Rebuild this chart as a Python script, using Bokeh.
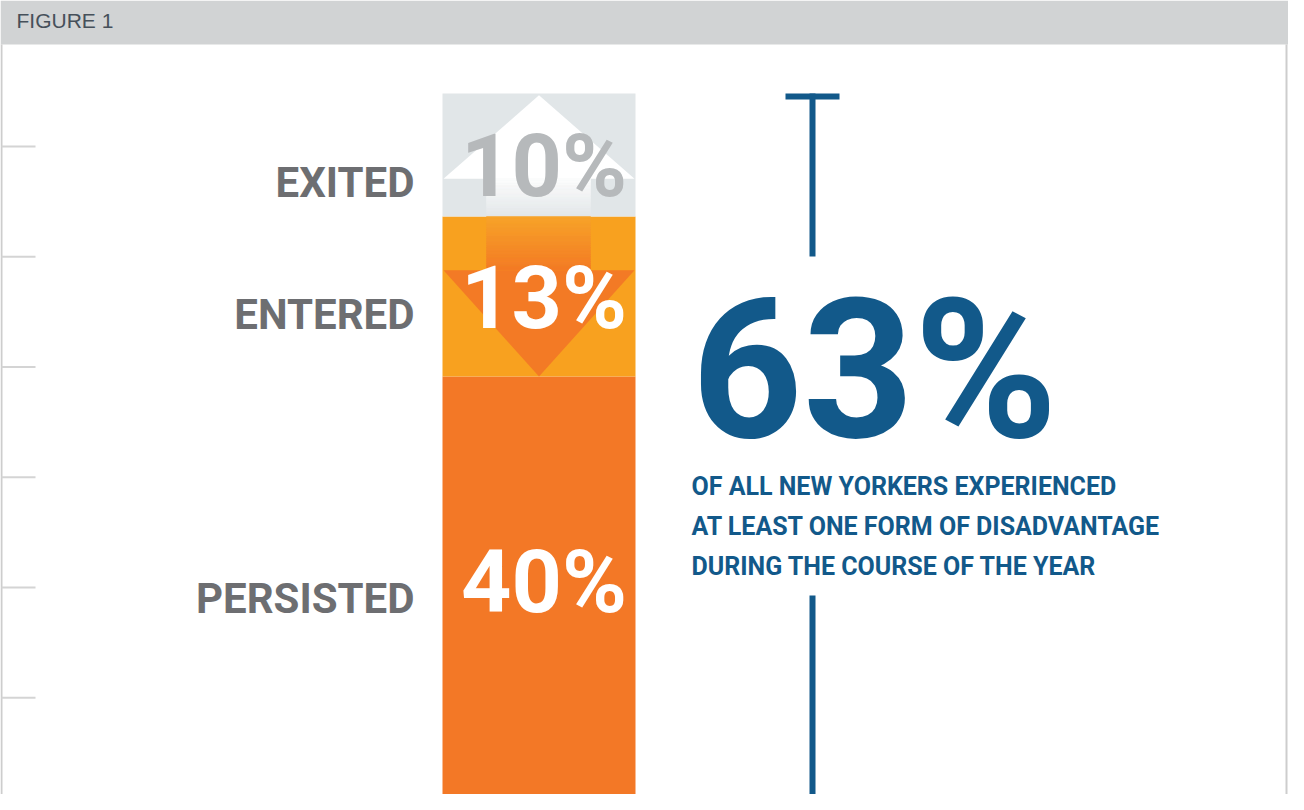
from bokeh.plotting import figure
from bokeh.models import Range1d, ColumnDataSource
from bokeh.core.properties import value
from bokeh.embed import file_html
from bokeh.resources import INLINE
import numpy as np

# ---------------- data ----------------
categories = ["PERSISTED", "ENTERED", "EXITED"]
values = [40, 13, 10]
seg_colors = ["#F37826", "#F8A11F", "#E1E6E8"]
value_text_colors = ["#FFFFFF", "#FFFFFF", "#B6B9BB"]
header_text = "FIGURE 1"
summary_lines = ["OF ALL NEW YORKERS EXPERIENCED",
                 "AT LEAST ONE FORM OF DISADVANTAGE",
                 "DURING THE COURSE OF THE YEAR"]

# ---------------- layout helpers ----------------
W, H = 1288, 794
PAGE0 = 8
TOTAL = sum(values)
TOP_PX = 101      # page y of the top of the stack
K = 12.3          # px per percentage point
FIX = 0.37        # empirical baseline correction (em)


def py(y_px):
    return TOTAL - (y_px - TOP_PX) / K


def ty(baseline_px, fs):
    return py(baseline_px - FIX * fs)


FONT = "Roboto"
BLUE = "#12598A"
LABEL_GREY = "#6D6E71"

p = figure(width=W, height=H, x_range=Range1d(PAGE0, PAGE0 + W),
           y_range=Range1d(py(PAGE0 + H), py(PAGE0)),
           output_backend="svg", toolbar_location=None, min_border=0)
p.axis.visible = False
p.grid.visible = False
p.outline_line_color = None
p.background_fill_color = "white"
p.border_fill_color = "white"

# header band and frame
p.quad(left=PAGE0, right=PAGE0 + W, top=py(PAGE0), bottom=py(52),
       fill_color="#D1D3D4", line_color=None)
p.text(x=[24], y=[ty(36, 21)], text=[header_text], text_font=value("Liberation Sans"),
       text_font_size="21px", text_color="#46505A", text_baseline="alphabetic")
p.segment(x0=[PAGE0 + 1, PAGE0 + W - 2], x1=[PAGE0 + 1, PAGE0 + W - 2],
          y0=[py(52)] * 2, y1=[py(PAGE0 + H)] * 2, line_color="#CDCDCD", line_width=2)
tick_px = [154 + 110.25 * i for i in range(6)]
p.segment(x0=[PAGE0 + 1] * 6, x1=[43] * 6, y0=[py(t) for t in tick_px],
          y1=[py(t) for t in tick_px], line_color="#D4D4D4", line_width=2)

# ---------------- stacked bar ----------------
BAR_X, BAR_W = 546.5, 193
bottoms = list(np.cumsum([0] + values[:-1]))
tops = list(np.cumsum(values))
src = ColumnDataSource(dict(bottom=bottoms, top=tops, color=seg_colors))
p.vbar(x=BAR_X, width=BAR_W, bottom="bottom", top="top", fill_color="color",
       line_color=None, source=src)

L, R = BAR_X - BAR_W / 2 + 1, BAR_X + BAR_W / 2 - 1
SL, SR = 494, 598


def hexrgb(h):
    h = h.lstrip("#")
    return [int(h[i:i + 2], 16) for i in (0, 2, 4)]


def gradient(y_start, y_end, c0, c1, n=24):
    a, b = np.array(hexrgb(c0)), np.array(hexrgb(c1))
    ys = np.linspace(y_start, y_end, n + 1)
    cols = []
    for i in range(n):
        c = a + (b - a) * (i + 0.5) / n
        cols.append("#%02x%02x%02x" % tuple(int(round(v)) for v in c))
    p.quad(left=SL, right=SR, top=list(ys[:-1]), bottom=list(ys[1:]),
           fill_color=cols, line_color=cols, line_width=0.5)


# up arrow in EXITED segment
b, t = bottoms[2], tops[2]
h = t - b
head = t - 0.694 * h
gradient(head, b, "#FDFDFD", "#E3E7E9")
p.patch(x=[L, BAR_X, R], y=[head, t - 0.015 * h, head], fill_color="#FFFFFF", line_color=None)

# down arrow in ENTERED segment
b, t = bottoms[1], tops[1]
h = t - b
head = t - 0.336 * h
gradient(t, head, "#F7A42A", "#F37A25")
p.patch(x=[L, R, BAR_X], y=[head, head, b], fill_color="#F37A25", line_color=None)

# value and category labels
VFS, CFS = 88, 42
base_frac = [0.516, 0.287, 0.15]
label_v = [bottoms[i] + base_frac[i] * values[i] for i in range(3)]
vsrc = ColumnDataSource(dict(x=[BAR_X + 5] * 3, y=[v + FIX * VFS / K for v in label_v],
                             text=[f"{v}%" for v in values], color=value_text_colors))
p.text(x="x", y="y", text="text", text_color="color", source=vsrc,
       text_font=value(FONT), text_font_style="bold", text_font_size=f"{VFS}px",
       text_align="center", text_baseline="alphabetic")
csrc = ColumnDataSource(dict(x=[422] * 3, y=[v + FIX * CFS / K for v in label_v],
                             text=categories))
p.text(x="x", y="y", text="text", source=csrc, text_color=LABEL_GREY,
       text_font=value(FONT), text_font_style="bold", text_font_size=f"{CFS}px",
       text_align="right", text_baseline="alphabetic")

# ---------------- total call-out ----------------
BFS, SFS = 194, 25
p.text(x=[699], y=[ty(450, BFS)], text=[f"{TOTAL}%"], text_color=BLUE,
       text_font=value(FONT), text_font_style="bold", text_font_size=f"{BFS}px",
       text_baseline="alphabetic")
p.text(x=[699] * 3, y=[ty(503 + 40 * i, SFS) for i in range(3)], text=summary_lines,
       text_color=BLUE, text_font=value(FONT), text_font_style="bold",
       text_font_size=f"{SFS}px", text_baseline="alphabetic")

# bracket spanning the total
BX = 820
p.segment(x0=[BX, BX], x1=[BX, BX], y0=[TOTAL, py(603)], y1=[py(264), 0],
          line_color=BLUE, line_width=6, line_cap="butt")
p.segment(x0=[793, 793], x1=[847, 847], y0=[py(TOP_PX + 3), py(TOP_PX + TOTAL * K - 3)],
          y1=[py(TOP_PX + 3), py(TOP_PX + TOTAL * K - 3)],
          line_color=BLUE, line_width=6, line_cap="butt")

open("out.html", "w").write(file_html(p, INLINE))
